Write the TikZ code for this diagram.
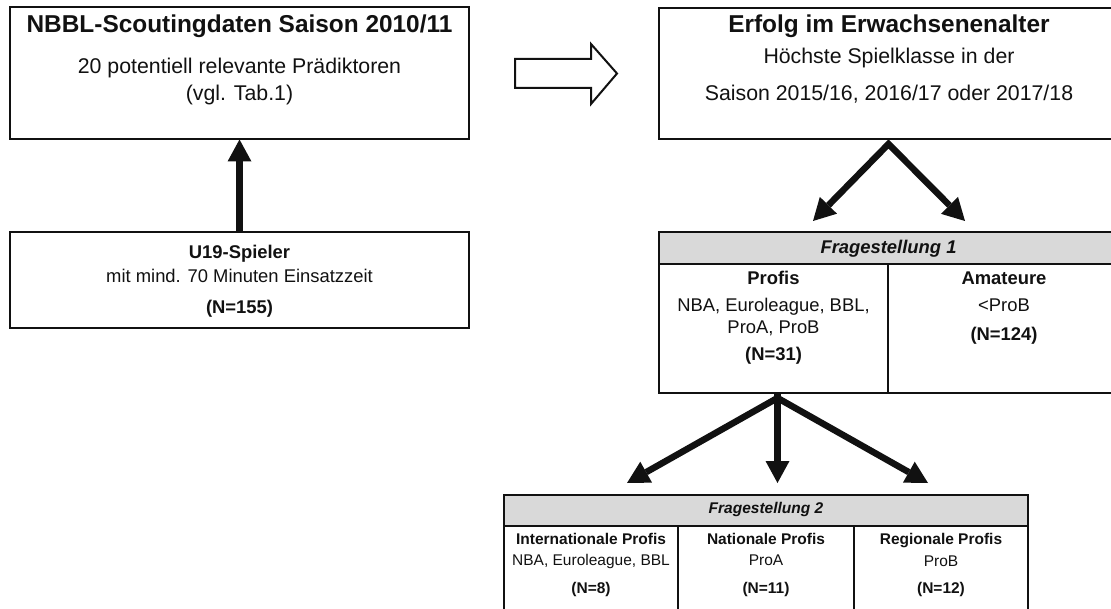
\documentclass[tikz,border=0pt]{standalone}
\usepackage{fontspec}
\setmainfont{Liberation Sans}
\usetikzlibrary{arrows.meta}
\definecolor{hdr}{RGB}{217,217,217}
\definecolor{ink}{RGB}{17,17,17}
\begin{document}
\begin{tikzpicture}[x=1pt,y=-1pt,
  box/.style={draw=ink, line width=2pt, inner sep=0pt, outer sep=0pt, rectangle},
  hbox/.style={box, fill=hdr},
  txt/.style={anchor=base, inner sep=0pt, text=ink},
  big/.style={txt, font=\fontsize{24.4}{28}\selectfont\bfseries},
  mid/.style={txt, font=\fontsize{21.3}{26}\selectfont},
  sm/.style={txt, font=\fontsize{18.4}{22}\selectfont},
  smb/.style={txt, font=\fontsize{18.4}{22}\selectfont\bfseries},
  smbi/.style={txt, font=\fontsize{18.4}{22}\selectfont\bfseries\itshape},
  xs/.style={txt, font=\fontsize{15.5}{18}\selectfont},
  xsb/.style={txt, font=\fontsize{15.5}{18}\selectfont\bfseries},
  xsbi/.style={txt, font=\fontsize{15.5}{18}\selectfont\bfseries\itshape},
  fat/.style={draw=ink, line width=6.5pt, line join=miter},
  tip/.tip={Triangle[width=24pt,length=22pt,line width=0pt]},
]
\useasboundingbox (0,0) rectangle (1111,609);

% ---- boxes ----
\node[box, minimum width=459pt, minimum height=132pt] (b1) at (239.5,73.5) {};
\node[box, minimum width=459pt, minimum height=131pt] (erf) at (888.5,73.5) {};
\node[box, minimum width=459pt, minimum height=96pt] (u19) at (239.5,280) {};

\node[hbox, minimum width=459pt, minimum height=32pt] (f1h) at (888.5,248) {};
\node[box, minimum width=229pt, minimum height=129pt] (p1col) at (773.5,328.5) {};
\node[box, minimum width=230pt, minimum height=129pt] (a1col) at (1003,328.5) {};

\node[hbox, minimum width=524pt, minimum height=31pt] (f2h) at (766,510.5) {};
\node[box, minimum width=174pt, minimum height=94pt] (c1) at (591,573) {};
\node[box, minimum width=176pt, minimum height=94pt] (c2) at (766,573) {};
\node[box, minimum width=174pt, minimum height=94pt] (c3) at (941,573) {};

% ---- texts ----
\node[big] (b1t) at (239.5,33) {NBBL-Scoutingdaten Saison 2010/11};
\node[mid] (b1a) at (239.5,74) {20 potentiell relevante Prädiktoren};
\node[mid] (b1b) at (239.5,101) {(vgl. Tab.1)};

\node[big] (erft) at (889,33) {Erfolg im Erwachsenenalter};
\node[mid] (erfa) at (889,64) {Höchste Spielklasse in der};
\node[mid] (erfb) at (889,101) {Saison 2015/16, 2016/17 oder 2017/18};

\node[smb] (u19t) at (239.5,259) {U19-Spieler};
\node[sm] (u19a) at (239.5,283) {mit mind. 70 Minuten Einsatzzeit};
\node[smb] (u19b) at (239.5,314) {(N=155)};

\node[smbi] (f1t) at (888.5,254) {Fragestellung 1};
\node[smb] (p1t) at (773.5,285) {Profis};
\node[sm] (p1a) at (773.5,312) {NBA, Euroleague, BBL,};
\node[sm] (p1b) at (773.5,334) {ProA, ProB};
\node[smb] (p1c) at (773.5,361) {(N=31)};
\node[smb] (a1t) at (1004,285) {Amateure};
\node[sm] (a1a) at (1004,312) {<ProB};
\node[smb] (a1c) at (1004,341) {(N=124)};

\node[xsbi] (f2t) at (766,513) {Fragestellung 2};
\node[xsb] (c1t) at (591,544) {Internationale Profis};
\node[xs] (c1a) at (591,565) {NBA, Euroleague, BBL};
\node[xsb] (c1c) at (591,593) {(N=8)};
\node[xsb] (c2t) at (766,544) {Nationale Profis};
\node[xs] (c2a) at (766,565) {ProA};
\node[xsb] (c2c) at (766,593) {(N=11)};
\node[xsb] (c3t) at (941,544) {Regionale Profis};
\node[xs] (c3a) at (941,566) {ProB};
\node[xsb] (c3c) at (941,593) {(N=12)};

% ---- hollow arrow ----
\draw[draw=ink, line width=2pt, fill=white, line join=miter]
  (515,59) -- (591,59) -- (591,44) -- (617,73.5) -- (591,104) -- (591,88) -- (515,88) -- cycle;

% ---- connectors ----
\draw[fat, -tip] (u19.north) -- (b1.south);

\coordinate (t1) at (813,221);
\coordinate (t2) at (965,221);
\draw[fat, tip-tip] (t1) -- ([yshift=-5pt]erf.south) -- (t2);

\coordinate (s1) at (627,483);
\coordinate (s2) at (777.5,483);
\coordinate (s3) at (928,483);
\draw[fat, tip-tip] (s1) -- ([xshift=4pt,yshift=-5pt]p1col.south) -- (s3);
\draw[fat, -tip] ([xshift=4pt]p1col.south) -- (s2);
\end{tikzpicture}
\end{document}
